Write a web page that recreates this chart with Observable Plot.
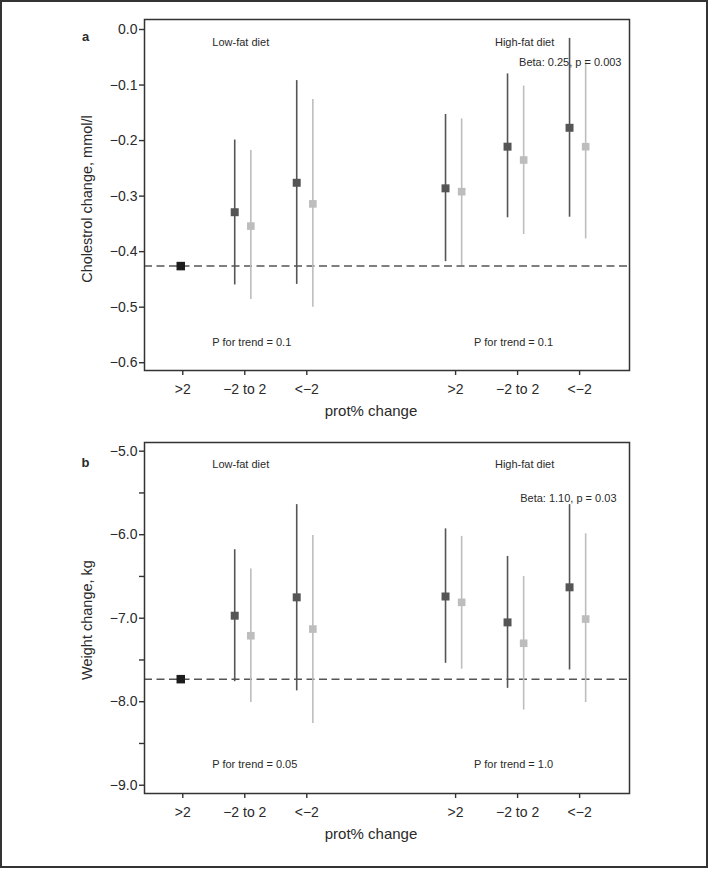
<!DOCTYPE html>
<html>
<head>
<meta charset="utf-8">
<script src="https://cdn.jsdelivr.net/npm/d3@7"></script>
<script src="https://cdn.jsdelivr.net/npm/@observablehq/plot@0.6"></script>
<style>
  html, body { margin: 0; padding: 0; background: #fff; }
  #wrap { position: relative; width: 710px; height: 869px; overflow: hidden; }
  #wrap svg { display: block; }
  #border { position: absolute; left: 0; top: 0; width: 708px; height: 868px; box-sizing: border-box; border: 2px solid #333; pointer-events: none; }
</style>
</head>
<body>
<div id="wrap"><div id="border"></div></div>
<script>
// ---------- data ----------
const groups = ["Low-fat diet", "High-fat diet"];
const categories = [">2", "\u22122 to 2", "<\u22122"];
const xAxisLabel = "prot% change";

// slots: Low >2, Low -2..2, Low <-2, High >2, High -2..2, High <-2
const cholRef = -0.426;
const cholDark   = [null, -0.329, -0.276, -0.286, -0.211, -0.177];
const cholDarkLo = [null, -0.460, -0.459, -0.418, -0.339, -0.338];
const cholDarkHi = [null, -0.199, -0.092, -0.153, -0.080, -0.016];
const cholLight   = [null, -0.354, -0.314, -0.292, -0.235, -0.211];
const cholLightLo = [null, -0.486, -0.500, -0.425, -0.369, -0.377];
const cholLightHi = [null, -0.218, -0.126, -0.161, -0.102, -0.056];
const cholTicks = [-0.6, -0.5, -0.4, -0.3, -0.2, -0.1, 0.0];
const cholTexts = {panel: "a", ylabel: "Cholestrol change, mmol/l", beta: "Beta: 0.25, p = 0.003",
                   trend: ["P for trend = 0.1", "P for trend = 0.1"]};

const wRef = -7.73;
const wDark   = [null, -6.97, -6.75, -6.74, -7.05, -6.63];
const wDarkLo = [null, -7.76, -7.87, -7.54, -7.84, -7.62];
const wDarkHi = [null, -6.18, -5.64, -5.93, -6.26, -5.64];
const wLight   = [null, -7.21, -7.13, -6.81, -7.30, -7.01];
const wLightLo = [null, -8.01, -8.26, -7.61, -8.10, -8.01];
const wLightHi = [null, -6.41, -6.01, -6.02, -6.50, -5.99];
const wTicks = [-9.0, -8.5, -8.0, -7.5, -7.0, -6.5, -6.0, -5.5, -5.0];
const wTexts = {panel: "b", ylabel: "Weight change, kg", beta: "Beta: 1.10, p = 0.03",
                trend: ["P for trend = 0.05", "P for trend = 1.0"]};

// ---------- layout helpers ----------
const GROUP_GAP = 4.4;
const DODGE = 0.13;
const xOf = (k) => Math.floor(k / 3) * GROUP_GAP + (k % 3 - 1);
const tickX = d3.range(6).map(xOf);
const tickLabel = new Map(tickX.map((x, k) => [x, categories[k % 3]]));
const groupX = groups.map((g, i) => i * GROUP_GAP);

function rows(mean, lo, hi, off) {
  return mean.map((m, k) => ({x: xOf(k) + off, y: m, lo: lo[k], hi: hi[k]})).filter(d => d.y != null);
}

const FONT = "'Liberation Sans', Arial, Helvetica, sans-serif";
const DARK = "#555555", LIGHT = "#bdbdbd", REF = "#1c1c1c", INK = "#2a2a2a";

function panel(o) {
  const dark = rows(o.dark, o.darkLo, o.darkHi, -DODGE);
  const light = rows(o.light, o.lightLo, o.lightHi, DODGE);
  return Plot.plot({
    width: 710, height: o.height,
    marginLeft: 144, marginRight: 81, marginTop: o.mt, marginBottom: o.mb,
    style: {fontFamily: FONT, fontSize: "14px", color: INK, background: "transparent", overflow: "visible"},
    x: {domain: [-1.585, 6.237]},
    y: {domain: o.yDomain},
    marks: [
      Plot.ruleY([o.ref], {stroke: "#555", strokeWidth: 1.5, strokeDasharray: "8,4.5"}),
      Plot.ruleX(dark, {x: "x", y1: "lo", y2: "hi", stroke: DARK, strokeWidth: 1.6}),
      Plot.ruleX(light, {x: "x", y1: "lo", y2: "hi", stroke: LIGHT, strokeWidth: 1.6}),
      Plot.dot(dark, {x: "x", y: "y", symbol: "square", r: 4.5, fill: DARK, stroke: null}),
      Plot.dot(light, {x: "x", y: "y", symbol: "square", r: 4.3, fill: LIGHT, stroke: null}),
      Plot.dot([{x: xOf(0), y: o.ref}], {x: "x", y: "y", symbol: "square", r: 4.8, fill: REF, stroke: null}),
      Plot.axisY({ticks: o.ticks, tickFormat: o.tickFormat, tickSize: 5, tickPadding: 2, label: null,
                  stroke: "#333", strokeWidth: 1.4, fill: INK, fontSize: 14}),
      Plot.axisX({ticks: tickX, tickFormat: d => tickLabel.get(d), tickSize: 5, tickPadding: 9, label: null,
                  stroke: "#333", strokeWidth: 1.4, fill: INK, fontSize: 14, dx: 2}),
      Plot.frame({stroke: "#333", strokeWidth: 1.5}),
      // panel letter
      Plot.text([o.texts.panel], {frameAnchor: "top-left", dx: -59, dy: o.letterDy, fontWeight: "bold", fontSize: 13, textAnchor: "middle", fill: INK}),
      // group titles
      Plot.text([groups[0]], {x: groupX[0], frameAnchor: "top", dx: -2, dy: o.titleDy, fontSize: 11, fill: INK}),
      Plot.text([groups[1]], {x: groupX[1], frameAnchor: "top", dx: 9, dy: o.titleDy, fontSize: 11, fill: INK}),
      Plot.text([o.texts.beta], {frameAnchor: "top-right", dx: o.betaDx, dy: o.betaDy, textAnchor: "end", fontSize: 11, fill: INK}),
      Plot.text([o.texts.trend[0]], {x: groupX[0], frameAnchor: "bottom", dx: o.trendDx[0], dy: o.trendDy, fontSize: 11, fill: INK}),
      Plot.text([o.texts.trend[1]], {x: groupX[1], frameAnchor: "bottom", dx: o.trendDx[1], dy: o.trendDy, fontSize: 11, fill: INK}),
      // axis titles
      Plot.text([o.texts.ylabel], {frameAnchor: "left", rotate: -90, dx: -57, dy: o.ylabDy, textAnchor: "middle", fontSize: 14.5, fill: INK}),
      Plot.text([xAxisLabel], {frameAnchor: "bottom", dx: -16, dy: 45, fontSize: 15, fill: INK})
    ]
  });
}

const wrap = document.getElementById("wrap");
const border = document.getElementById("border");

const plotA = panel({
  height: 430, mt: 19, mb: 60,
  yDomain: [-0.614, 0.018], ref: cholRef,
  dark: cholDark, darkLo: cholDarkLo, darkHi: cholDarkHi,
  light: cholLight, lightLo: cholLightLo, lightHi: cholLightHi,
  ticks: cholTicks, tickFormat: d3.format(".1f"), texts: cholTexts,
  letterDy: 12, titleDy: 19, betaDx: -8, betaDy: 39, trendDx: [9, -2], trendDy: -25, ylabDy: 4
});
const plotB = panel({
  height: 439, mt: 12, mb: 76,
  yDomain: [-9.099, -4.896], ref: wRef,
  dark: wDark, darkLo: wDarkLo, darkHi: wDarkHi,
  light: wLight, lightLo: wLightLo, lightHi: wLightHi,
  ticks: wTicks, tickFormat: d => Number.isInteger(d) ? d3.format(".1f")(d) : "", texts: wTexts,
  letterDy: 15, titleDy: 18, betaDx: -13, betaDy: 52, trendDx: [12, -2], trendDy: -26, ylabDy: 2
});
wrap.insertBefore(plotA, border);
wrap.insertBefore(plotB, border);
</script>
</body>
</html>
